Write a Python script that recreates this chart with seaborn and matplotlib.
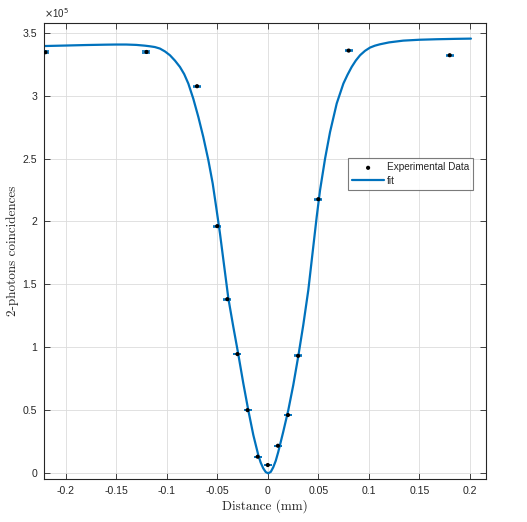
import numpy as np
import pandas as pd
import matplotlib
matplotlib.use("Agg")
import matplotlib.pyplot as plt
from matplotlib.ticker import FuncFormatter, MultipleLocator
import seaborn as sns

# Experimental data (distance in mm, 2-photon coincidences)
distance_mm = [-0.22, -0.12, -0.07, -0.05, -0.04, -0.03, -0.02, -0.01,
               0.0, 0.01, 0.02, 0.03, 0.05, 0.08, 0.18]
coincidences = [3.344e5, 3.346e5, 3.074e5, 1.963e5, 1.383e5, 0.947e5, 0.502e5,
                0.132e5, 0.066e5, 0.219e5, 0.463e5, 0.933e5, 2.177e5, 3.357e5, 3.320e5]
coinc_err = [580, 580, 550, 440, 370, 310, 220, 115, 80, 150, 215, 305, 465, 580, 575]

# Fit curve
fit_x = [-0.2214, -0.20, -0.18, -0.16, -0.15, -0.14, -0.13, -0.1216, -0.1166,
         -0.1117, -0.1067, -0.1017, -0.0968, -0.0918, -0.0869, -0.0827, -0.0786,
         -0.0737, -0.0687, -0.0638, -0.0588, -0.0545, -0.0506, -0.0473, -0.0435,
         -0.039, -0.0341, -0.0292, -0.0242, -0.0193, -0.0143, -0.0094, -0.0070,
         -0.0045, -0.0020, 0.0005, 0.0030, 0.0054, 0.0079, 0.0104, 0.0153, 0.0203,
         0.0252, 0.0302, 0.0351, 0.0401, 0.0443, 0.0484, 0.0517, 0.0567, 0.0616,
         0.0682, 0.0748, 0.0789, 0.0830, 0.0871, 0.0913, 0.0962, 0.1012, 0.106,
         0.111, 0.120, 0.134, 0.150, 0.167, 0.185, 0.201]
fit_y = [3.393e5, 3.397e5, 3.401e5, 3.404e5, 3.405e5, 3.405e5, 3.402e5, 3.396e5,
         3.391e5, 3.385e5, 3.373e5, 3.350e5, 3.320e5, 3.277e5, 3.227e5, 3.170e5,
         3.095e5, 2.975e5, 2.830e5, 2.671e5, 2.487e5, 2.302e5, 2.090e5, 1.905e5,
         1.668e5, 1.389e5, 1.163e5, 0.947e5, 0.714e5, 0.502e5, 0.304e5, 0.145e5,
         0.085e5, 0.040e5, 0.010e5, 0.0, 0.012e5, 0.048e5, 0.100e5, 0.171e5,
         0.330e5, 0.502e5, 0.700e5, 0.931e5, 1.177e5, 1.455e5, 1.750e5, 2.037e5,
         2.248e5, 2.500e5, 2.710e5, 2.937e5, 3.095e5, 3.165e5, 3.227e5, 3.278e5,
         3.320e5, 3.355e5, 3.381e5, 3.396e5, 3.407e5, 3.422e5, 3.436e5, 3.443e5,
         3.447e5, 3.450e5, 3.452e5]

x_ticks = [-0.2, -0.15, -0.1, -0.05, 0, 0.05, 0.1, 0.15, 0.2]

sns.set_theme(style="white")
plt.rcParams['font.family'] = ['Liberation Sans', 'DejaVu Sans']
plt.rcParams['axes.unicode_minus'] = False

blue = "#0072BD"
axcol = "#262626"

fig = plt.figure(figsize=(5.27, 5.22), dpi=100)
ax = fig.add_axes([44 / 527, 43 / 522, 442 / 527, 456 / 522])

data_df = pd.DataFrame({"x": distance_mm, "y": coincidences})
fit_df = pd.DataFrame({"x": fit_x, "y": fit_y})

ax.errorbar(distance_mm, coincidences, yerr=coinc_err, fmt="none",
            ecolor=blue, elinewidth=1.2, capsize=2.6, capthick=1.2, zorder=3)
sns.scatterplot(data=data_df, x="x", y="y", ax=ax, color="black", s=9,
                edgecolor="none", zorder=4, label="Experimental Data")
sns.lineplot(data=fit_df, x="x", y="y", ax=ax, color=blue, linewidth=1.6,
             sort=False, zorder=2, label="fit")

ax.set_xlim(-0.2214, 0.2159)
ax.set_ylim(-0.045e5, 3.576e5)
ax.set_xticks(x_ticks)
ax.xaxis.set_major_formatter(FuncFormatter(lambda v, p: f"{v:g}"))
ax.yaxis.set_major_locator(MultipleLocator(0.5e5))
ax.yaxis.set_major_formatter(FuncFormatter(lambda v, p: f"{v / 1e5:g}"))

ax.grid(True, color="#dcdcdc", linewidth=0.6)
ax.set_axisbelow(True)
for s in ax.spines.values():
    s.set_color(axcol)
    s.set_linewidth(0.8)
ax.tick_params(direction="in", length=4, width=0.6, colors=axcol,
               labelsize=7.6, top=True, right=True, bottom=True, left=True,
               labelcolor=axcol, pad=5)

ax.set_xlabel("Distance (mm)", family=["cmr10", "DejaVu Serif"], fontsize=9.5,
              color=axcol, labelpad=2)
ax.set_ylabel("2-photons coincidences", family=["cmr10", "DejaVu Serif"],
              fontsize=9.5, color=axcol, labelpad=2.5)
ax.text(0.0, 1.006, r"$\times$10$^5$", transform=ax.transAxes, fontsize=7,
        color=axcol, ha="left", va="bottom")

leg = ax.legend(loc="upper left", bbox_to_anchor=(0.688, 0.703), fontsize=7.2,
                frameon=True, fancybox=False, edgecolor="#5a5a5a",
                borderpad=0.4, handlelength=3.2, handletextpad=0.25,
                labelspacing=0.35, borderaxespad=0)
leg.get_frame().set_linewidth(0.8)
for t in leg.get_texts():
    t.set_color(axcol)

fig.savefig("out.png", dpi=100)
